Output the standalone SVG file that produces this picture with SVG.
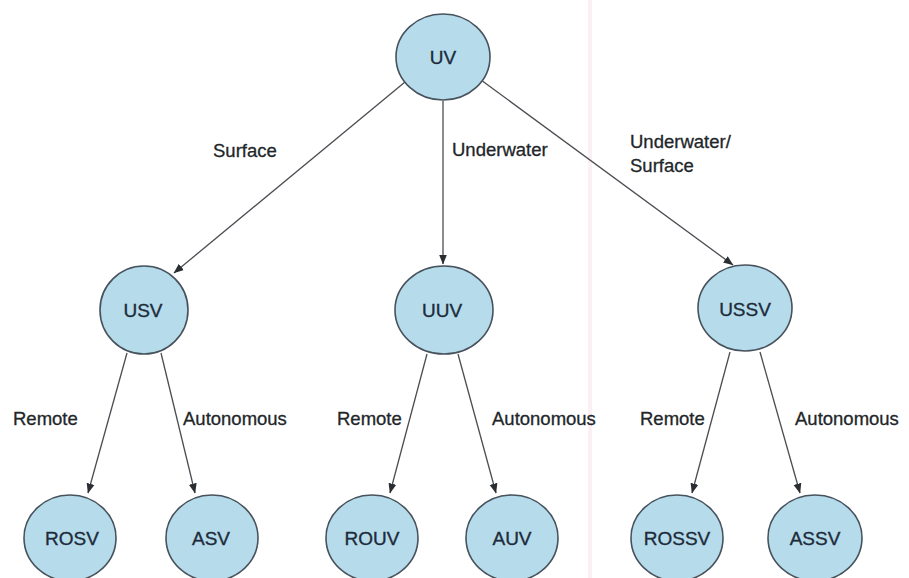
<svg xmlns="http://www.w3.org/2000/svg" width="909" height="578" viewBox="0 0 909 578">
  <defs>
    <marker id="arrow" markerUnits="userSpaceOnUse" markerWidth="10" markerHeight="10" viewBox="0 0 10 10" refX="9.5" refY="5" orient="auto">
      <path d="M0,1 L10,5 L0,9 Z" fill="#2a2e33"/>
    </marker>
  </defs>
  <style>
    .node ellipse { fill: #b6dcec; stroke: #47525c; stroke-width: 1.6; }
    .node text { font-family: "Liberation Sans", Arial, sans-serif; font-size: 19px; fill: #1d2b3a; stroke: #1d2b3a; stroke-width: 0.35; text-anchor: middle; }
    .edge { stroke: #4a4d52; stroke-width: 1.3; fill: none; marker-end: url(#arrow); }
    .lbl { font-family: "Liberation Sans", Arial, sans-serif; font-size: 18.5px; fill: #222629; stroke: #222629; stroke-width: 0.3; }
  </style>
  <rect width="909" height="578" fill="#ffffff"/>
  <rect x="588" y="0" width="4" height="578" fill="#fbf1f4"/>

  <g id="connectors">
    <line class="edge" x1="405" y1="82" x2="174" y2="273"/>
    <line class="edge" x1="443" y1="101" x2="443" y2="264"/>
    <line class="edge" x1="481" y1="80" x2="733" y2="265"/>
    <line class="edge" x1="127" y1="353" x2="88" y2="493"/>
    <line class="edge" x1="161" y1="353" x2="195" y2="493"/>
    <line class="edge" x1="427" y1="354" x2="390" y2="493"/>
    <line class="edge" x1="458" y1="354" x2="496" y2="493"/>
    <line class="edge" x1="730" y1="352" x2="692" y2="493"/>
    <line class="edge" x1="760" y1="352" x2="800" y2="493"/>
    <text class="lbl" x="213" y="157">Surface</text>
    <text class="lbl" x="452" y="156">Underwater</text>
    <text class="lbl" x="630" y="148">Underwater/</text>
    <text class="lbl" x="630" y="172">Surface</text>
    <text class="lbl" x="13" y="425">Remote</text>
    <text class="lbl" x="183" y="425">Autonomous</text>
    <text class="lbl" x="337" y="425">Remote</text>
    <text class="lbl" x="492" y="425">Autonomous</text>
    <text class="lbl" x="640" y="425">Remote</text>
    <text class="lbl" x="795" y="425">Autonomous</text>
  </g>

  <g id="UV" class="node"><ellipse cx="443" cy="57" rx="47" ry="43"/><text x="443" y="64">UV</text></g>
  <g id="USV" class="node"><ellipse cx="144" cy="310" rx="44" ry="44"/><text x="143" y="317">USV</text></g>
  <g id="UUV" class="node"><ellipse cx="444" cy="310" rx="49" ry="44"/><text x="442" y="317">UUV</text></g>
  <g id="USSV" class="node"><ellipse cx="745" cy="308" rx="47" ry="43"/><text x="745" y="316">USSV</text></g>
  <g id="ROSV" class="node"><ellipse cx="70" cy="538" rx="46" ry="43"/><text x="72" y="545">ROSV</text></g>
  <g id="ASV" class="node"><ellipse cx="212" cy="538" rx="46" ry="43"/><text x="211" y="545">ASV</text></g>
  <g id="ROUV" class="node"><ellipse cx="372" cy="538" rx="46" ry="43"/><text x="372" y="545">ROUV</text></g>
  <g id="AUV" class="node"><ellipse cx="512" cy="538" rx="46" ry="43"/><text x="512" y="545">AUV</text></g>
  <g id="ROSSV" class="node"><ellipse cx="677" cy="538" rx="46" ry="43"/><text x="677" y="545">ROSSV</text></g>
  <g id="ASSV" class="node"><ellipse cx="815" cy="538" rx="47" ry="43"/><text x="815" y="545">ASSV</text></g>
</svg>
